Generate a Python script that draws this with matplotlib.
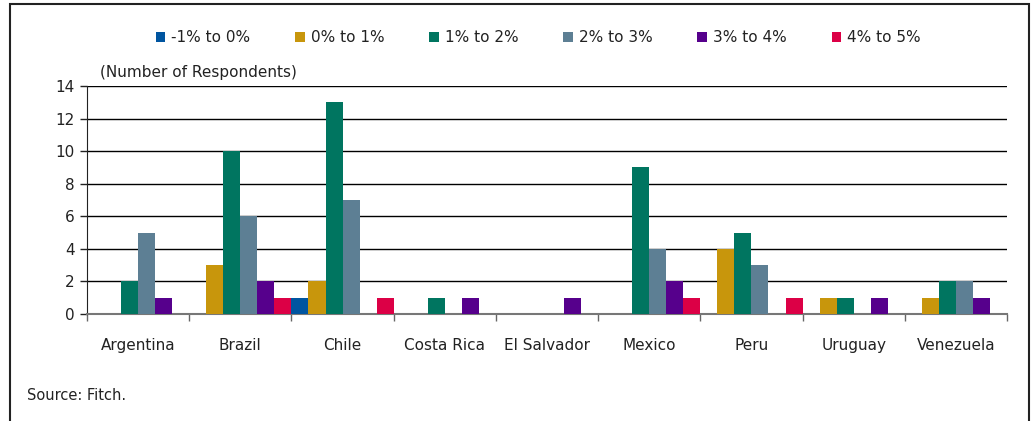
import numpy as np
import matplotlib
matplotlib.use("Agg")
import matplotlib.pyplot as plt
from matplotlib.patches import Rectangle

kraje = ["Argentina", "Brazil", "Chile", "Costa Rica", "El Salvador",
         "Mexico", "Peru", "Uruguay", "Venezuela"]
serie = ["-1% to 0%", "0% to 1%", "1% to 2%", "2% to 3%", "3% to 4%", "4% to 5%"]
kolory = ["#0055a0", "#c8960c", "#007560", "#5d7f94", "#56008c", "#dc0046"]

# liczba respondentow dla kazdego przedzialu
minus1_0 = [0, 0, 1, 0, 0, 0, 0, 0, 0]
zero_1 = [0, 3, 2, 0, 0, 0, 4, 1, 1]
jeden_2 = [2, 10, 13, 1, 0, 9, 5, 1, 2]
dwa_3 = [5, 6, 7, 0, 0, 4, 3, 0, 2]
trzy_4 = [1, 2, 0, 1, 1, 2, 0, 1, 1]
cztery_5 = [0, 1, 1, 0, 0, 1, 1, 0, 0]
dane = [minus1_0, zero_1, jeden_2, dwa_3, trzy_4, cztery_5]

plt.rcParams['font.family'] = ['DejaVu Sans']

fig = plt.figure(figsize=(10.33, 4.21), dpi=100)
ax = fig.add_axes([87/1033, 1-314/421, (1007-87)/1033, (314-86)/421])

x = np.arange(len(kraje))
szer = 1/6
for i, (wartosci, kolor, nazwa) in enumerate(zip(dane, kolory, serie)):
    ax.bar(x - 0.5 + szer*(i+0.5), wartosci, width=szer, color=kolor,
           label=nazwa, zorder=3, linewidth=0)

ax.set_xlim(-0.5, len(kraje)-0.5)
ax.set_ylim(0, 14)
ax.set_yticks(range(0, 15, 2))
ax.tick_params(axis='y', labelsize=11, length=5, width=1, colors='#222222', pad=4)
ax.set_xticks(x)
ax.set_xticklabels(kraje, fontsize=11, color='#222222')
ax.tick_params(axis='x', length=0, pad=17)
ax.set_xticks(np.arange(-0.5, len(kraje)), minor=True)
ax.tick_params(axis='x', which='minor', length=5, width=1, color='#666666')
ax.yaxis.grid(True, color='black', linewidth=1, zorder=0)
ax.set_axisbelow(True)
for s in ['top', 'right']:
    ax.spines[s].set_visible(False)
ax.spines['left'].set_color('#222222')
ax.spines['bottom'].set_color('#777777')
ax.spines['bottom'].set_linewidth(1.5)

fig.text(100/1033, 1-72/421, "(Number of Respondents)", fontsize=11,
         color='#222222', va='center')
fig.text(27/1033, 1-395/421, "Source: Fitch.", fontsize=10.5,
         color='#222222', va='center')

fig.legend(loc='center', bbox_to_anchor=(0.521, 1-38/421), ncol=6, frameon=False,
           fontsize=11, handlelength=0.6, handleheight=0.6, handletextpad=0.4,
           columnspacing=2.95, labelcolor='#222222')

fig.patches.append(Rectangle((10/1033, -0.05), (1029-10)/1033, 1.05 - 4/421,
                             transform=fig.transFigure, fill=False,
                             edgecolor='#222222', linewidth=1.5))

fig.savefig("out.png", dpi=100)
